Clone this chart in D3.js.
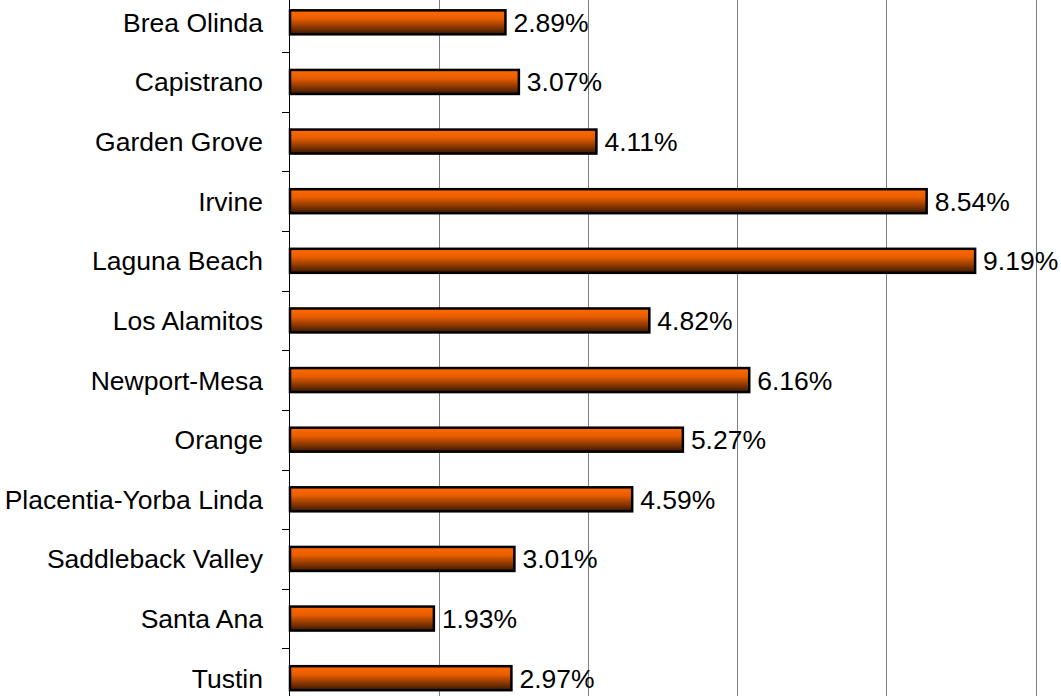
<!DOCTYPE html>
<html>
<head>
<meta charset="utf-8">
<script src="https://cdn.jsdelivr.net/npm/d3@7"></script>
<style>
    body { margin: 0; background: #fff; }
    text { font-family: "Liberation Sans", Arial, sans-serif; }
</style>
</head>
<body>
<script>
    var districts = ['Brea Olinda', 'Capistrano', 'Garden Grove', 'Irvine', 'Laguna Beach',
        'Los Alamitos', 'Newport-Mesa', 'Orange', 'Placentia-Yorba Linda',
        'Saddleback Valley', 'Santa Ana', 'Tustin'];
    var rates = [2.89, 3.07, 4.11, 8.54, 9.19, 4.82, 6.16, 5.27, 4.59, 3.01, 1.93, 2.97];
    var gridTicks = [2, 4, 6, 8, 10];

    var WIDTH = 1061,
        HEIGHT = 696,
        AXIS_X = 290,
        FONT_SIZE = 26.5;

    var svg = d3.select('body').append('svg')
        .attr('width', WIDTH)
        .attr('height', HEIGHT);

    // Gradient used by every bar: bright orange on top, dark brown below
    var grad = svg.append('defs').append('linearGradient')
        .attr('id', 'barFill')
        .attr('x1', 0).attr('y1', 0)
        .attr('x2', 0).attr('y2', 1);
    grad.append('stop').attr('offset', '0%').attr('stop-color', '#ff6a00');
    grad.append('stop').attr('offset', '35%').attr('stop-color', '#e85d00');
    grad.append('stop').attr('offset', '100%').attr('stop-color', '#3a1800');

    var x = d3.scaleLinear().domain([0, 10]).range([AXIS_X, 1035.5]);
    var y = d3.scaleBand().domain(districts).range([-7.5, 708]).paddingInner(0).paddingOuter(0);

    // Vertical gridlines
    svg.append('g').selectAll('line')
        .data(gridTicks)
        .enter()
        .append('line')
        .attr('x1', function(d) { return Math.round(x(d)) + 0.5; })
        .attr('x2', function(d) { return Math.round(x(d)) + 0.5; })
        .attr('y1', 0)
        .attr('y2', HEIGHT)
        .attr('stroke', '#808080')
        .attr('stroke-width', 1);

    // Category axis, ticks sit between bars
    var bandEdges = districts.slice(1).map(function(d) { return y(d); });
    svg.append('g').selectAll('line')
        .data(bandEdges)
        .enter()
        .append('line')
        .attr('x1', AXIS_X - 8)
        .attr('x2', AXIS_X)
        .attr('y1', function(d) { return Math.round(d) + 0.5; })
        .attr('y2', function(d) { return Math.round(d) + 0.5; })
        .attr('stroke', '#000');

    svg.append('line')
        .attr('x1', AXIS_X - 0.5).attr('x2', AXIS_X - 0.5)
        .attr('y1', 0).attr('y2', HEIGHT)
        .attr('stroke', '#000')
        .attr('stroke-width', 1);

    var barH = 24;
    var rows = svg.append('g').selectAll('g')
        .data(districts)
        .enter()
        .append('g')
        .attr('transform', function(d) { return 'translate(0,' + (y(d) + y.bandwidth() / 2) + ')'; });

    rows.append('rect')
        .attr('x', AXIS_X)
        .attr('y', -barH / 2)
        .attr('width', function(d, i) { return x(rates[i]) - AXIS_X; })
        .attr('height', barH)
        .attr('fill', 'url(#barFill)')
        .attr('stroke', '#000')
        .attr('stroke-width', 2.5);

    rows.append('text')
        .attr('x', function(d, i) { return x(rates[i]) + 8; })
        .attr('dy', '0.36em')
        .attr('font-size', FONT_SIZE)
        .attr('fill', '#000')
        .text(function(d, i) { return rates[i].toFixed(2) + '%'; });

    // District names
    rows.append('text')
        .attr('x', AXIS_X - 27)
        .attr('dy', '0.36em')
        .attr('text-anchor', 'end')
        .attr('font-size', FONT_SIZE)
        .attr('fill', '#000')
        .text(function(d) { return d; });
</script>
</body>
</html>
